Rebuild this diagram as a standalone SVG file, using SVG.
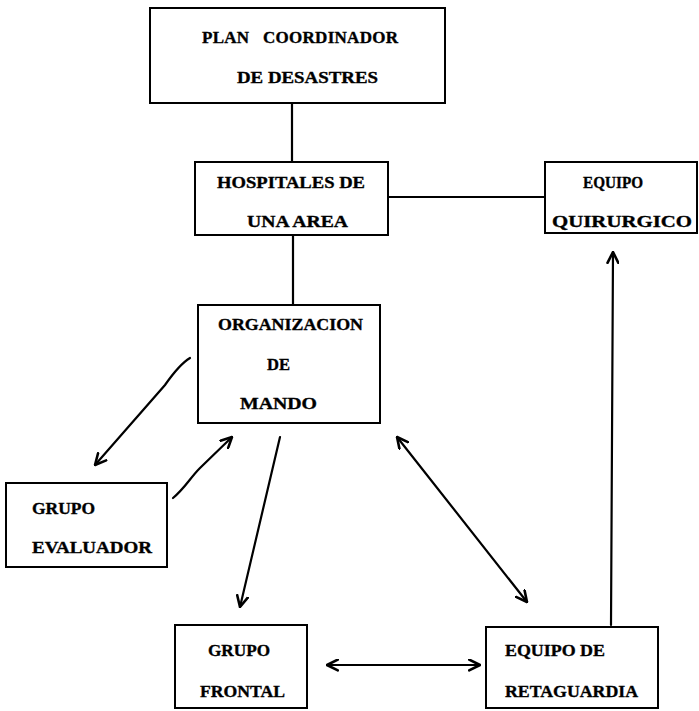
<svg xmlns="http://www.w3.org/2000/svg" width="699" height="711" viewBox="0 0 699 711">
<defs>
<style>
.box{fill:#fff;stroke:#000;stroke-width:2}
.t{font-family:"Liberation Serif","Times New Roman",serif;font-weight:bold;font-size:17px;fill:#000;stroke:#000;stroke-width:0.35}
.c{fill:none;stroke:#000;stroke-width:2.2;stroke-linecap:round}
</style>
<marker id="ah" viewBox="0 0 12 12" refX="11" refY="6" markerWidth="13" markerHeight="13" markerUnits="userSpaceOnUse" orient="auto-start-reverse">
<path d="M1,1 L11,6 L1,11" fill="none" stroke="#000" stroke-width="2.4" stroke-linecap="round" stroke-linejoin="round"/>
</marker>
</defs>
<rect width="699" height="711" fill="#fff"/>
<g id="connectors">
<line class="c" x1="292" y1="103" x2="292" y2="162"/>
<line class="c" x1="293" y1="235" x2="293" y2="305"/>
<line class="c" x1="388" y1="197" x2="545" y2="197"/>
<path class="c" d="M190,358 C180,364 172,375 165,385 L95,465" marker-end="url(#ah)"/>
<path class="c" d="M173,498 C185,488 190,478 200,468 L232,437" marker-end="url(#ah)"/>
<path class="c" d="M280,437 L240,607" marker-end="url(#ah)"/>
<path class="c" d="M397,437 L527,602" marker-start="url(#ah)" marker-end="url(#ah)"/>
<path class="c" d="M611,625 L613,252" marker-end="url(#ah)"/>
<path class="c" d="M327,665 L480,665" marker-start="url(#ah)" marker-end="url(#ah)"/>
</g>
<g id="plan">
<rect class="box" x="150" y="8" width="295" height="95"/>
<text class="t" x="202" y="43" textLength="196" lengthAdjust="spacing" xml:space="preserve">PLAN   COORDINADOR</text>
<text class="t" x="237" y="83" textLength="141" lengthAdjust="spacingAndGlyphs">DE DESASTRES</text>
</g>
<g id="hospitales">
<rect class="box" x="195" y="162" width="193" height="73"/>
<text class="t" x="217" y="188" textLength="148" lengthAdjust="spacingAndGlyphs">HOSPITALES DE</text>
<text class="t" x="247" y="227" textLength="101" lengthAdjust="spacingAndGlyphs">UNA AREA</text>
</g>
<g id="quirurgico">
<rect class="box" x="545" y="162" width="152" height="71"/>
<text class="t" x="583" y="188" textLength="60" lengthAdjust="spacingAndGlyphs">EQUIPO</text>
<text class="t" x="552" y="227" textLength="140" lengthAdjust="spacingAndGlyphs">QUIRURGICO</text>
</g>
<g id="organizacion">
<rect class="box" x="198" y="305" width="182" height="118"/>
<text class="t" x="218" y="330" textLength="145" lengthAdjust="spacingAndGlyphs">ORGANIZACION</text>
<text class="t" x="267" y="370" textLength="23" lengthAdjust="spacingAndGlyphs">DE</text>
<text class="t" x="240" y="409" textLength="77" lengthAdjust="spacingAndGlyphs">MANDO</text>
</g>
<g id="evaluador">
<rect class="box" x="6" y="483" width="161" height="84"/>
<text class="t" x="32" y="514" textLength="63" lengthAdjust="spacingAndGlyphs">GRUPO</text>
<text class="t" x="32" y="553" textLength="120" lengthAdjust="spacingAndGlyphs">EVALUADOR</text>
</g>
<g id="frontal">
<rect class="box" x="175" y="625" width="132" height="83"/>
<text class="t" x="208" y="656" textLength="62" lengthAdjust="spacingAndGlyphs">GRUPO</text>
<text class="t" x="200" y="697" textLength="85" lengthAdjust="spacingAndGlyphs">FRONTAL</text>
</g>
<g id="retaguardia">
<rect class="box" x="486" y="627" width="172" height="81"/>
<text class="t" x="505" y="656" textLength="100" lengthAdjust="spacingAndGlyphs">EQUIPO DE</text>
<text class="t" x="505" y="697" textLength="133" lengthAdjust="spacingAndGlyphs">RETAGUARDIA</text>
</g>
</svg>
